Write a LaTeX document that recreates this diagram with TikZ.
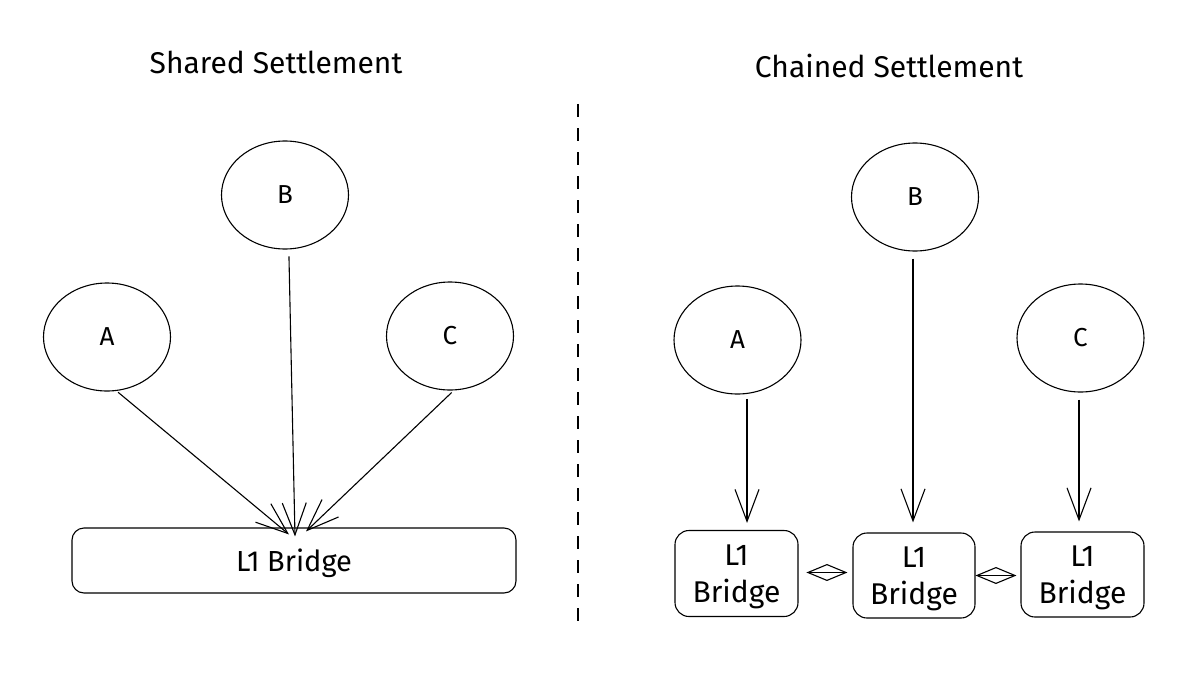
\documentclass[tikz,border=0pt]{standalone}
\usepackage{fontspec}
\setmainfont{Fira Sans}
\usetikzlibrary{shapes.geometric,arrows.meta}

\tikzset{
  bubble/.style={draw, ellipse, line width=1.1pt, minimum width=127pt, minimum height=108pt, inner sep=0pt, font=\fontsize{26}{30}\selectfont},
  bridgebox/.style={draw, rectangle, rounded corners=14pt, line width=1.1pt, inner sep=0pt, align=center, text depth=0pt, font=\fontsize{30}{37}\selectfont},
  headline/.style={font=\fontsize{30}{34}\selectfont},
  feed/.style={line width=1.1pt, -{Straight Barb[length=32pt,width=24pt,line width=1.1pt]}},
  link/.style={line width=1.1pt},
  linktip/.style={line width=1.1pt, -{Diamond[open,length=41pt,width=17pt,line width=1.1pt]}},
  divider/.style={line width=1.6pt, dash pattern=on 13pt off 11pt},
}

\begin{document}
\begin{tikzpicture}[x=1pt,y=1pt,yscale=-1,xscale=1]
\useasboundingbox (0,0) rectangle (1198,682);

% Text Node
\node[headline] (sharedtitle) at (276,62) {Shared Settlement};
% Text Node
\node[headline] (chainedtitle) at (889,66) {Chained Settlement};

%Straight Lines: divider
\coordinate (divtop) at (578,104);
\coordinate (divbot) at (578,630);
\draw[divider] (divtop) -- (divbot);

%Shape: Ellipses, shared side
\node[bubble] (sA) at (107,337) {A};
\node[bubble] (sB) at (285,195) {B};
\node[bubble] (sC) at (450,336) {C};
%Shape: Rectangle, shared bridge
\node[bridgebox, rounded corners=12pt, minimum width=444pt, minimum height=65pt, font=\fontsize{29}{34}\selectfont] (sbridge) at (294,560.5) {L1 Bridge};

%Straight Lines: shared side
\draw[feed, shorten <=2pt] (sA.-80) -- ([xshift=-5pt,yshift=7pt]sbridge.north);
\draw[feed, shorten <=7pt] (sB.-86) -- ([xshift=1pt,yshift=9pt]sbridge.north);
\draw[feed, shorten <=3pt] (sC.-86) -- ([xshift=12pt,yshift=4pt]sbridge.north);

%Shape: Ellipses, chained side
\node[bubble] (cA) at (737.5,340) {A};
\node[bubble] (cB) at (915,197) {B};
\node[bubble] (cC) at (1080.5,338) {C};
%Shape: Rectangles, chained bridges
\node[bridgebox, minimum width=123pt, minimum height=86pt] (cbl) at (736.5,573.5) {L1\\Bridge};
\node[bridgebox, minimum width=122pt, minimum height=85pt] (cbm) at (914,575.5) {L1\\Bridge};
\node[bridgebox, minimum width=123pt, minimum height=85pt] (cbr) at (1082.5,574.5) {L1\\Bridge};

%Straight Lines: chained side
\draw[feed, shorten <=5pt, shorten >=7pt] (cA.-80) -- (cA.-80 |- cbl.north);
\draw[feed, shorten <=7pt, shorten >=10pt] ([xshift=-2pt]cB.south) -- ([xshift=-2pt]cB.south |- cbm.north);
\draw[feed, shorten <=7pt, shorten >=10pt] ([xshift=-1.5pt]cC.south) -- ([xshift=-1.5pt]cC.south |- cbr.north);

%Straight Lines: bridge links
\draw[link, shorten <=8pt, shorten >=5pt] ([yshift=-1pt]cbl.east) -- ([yshift=-1pt]cbl.east -| cbm.west);
\draw[linktip, shorten <=8pt, shorten >=5pt] ([yshift=-1pt]cbl.east) -- ([yshift=-1pt]cbl.east -| cbm.west);
\draw[link, shorten <=3pt, shorten >=4pt] (cbm.east) -- (cbm.east -| cbr.west);
\draw[linktip, shorten <=3pt, shorten >=4pt] (cbm.east) -- (cbm.east -| cbr.west);

\end{tikzpicture}
\end{document}
